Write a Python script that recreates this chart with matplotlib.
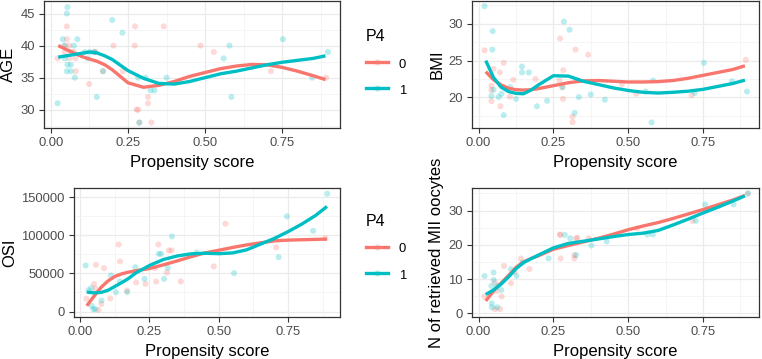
import matplotlib
matplotlib.use("Agg")
import matplotlib.pyplot as plt
from matplotlib.lines import Line2D
from matplotlib.colors import to_rgba

plt.rcParams["font.family"] = ["Liberation Sans", "DejaVu Sans"]

RED = "#F8766D"
CYAN = "#00BFC4"

ps_grid = [0.024, 0.05, 0.075, 0.1, 0.125, 0.15, 0.175, 0.2, 0.25, 0.3, 0.35,
           0.4, 0.45, 0.5, 0.55, 0.6, 0.65, 0.7, 0.75, 0.8, 0.85, 0.89]

# ---- AGE ----
age_x0 = [0.052, 0.273, 0.366, 0.203, 0.272, 0.485, 0.052, 0.047, 0.06, 0.022,
          0.045, 0.065, 0.075, 0.06, 0.08, 0.081, 0.124, 0.145, 0.14, 0.169,
          0.234, 0.315, 0.315, 0.278, 0.283, 0.326, 0.287, 0.528, 0.713, 0.892]
age_y0 = [43, 43, 43, 40, 40, 40, 41, 40, 40, 38,
          39, 39, 39, 38, 38, 36, 34, 39, 39, 36,
          36, 32, 31, 30, 30, 28, 28, 39, 36, 35]
age_x1 = [0.054, 0.052, 0.199, 0.232, 0.039, 0.086, 0.043, 0.075, 0.11, 0.127,
          0.142, 0.12, 0.054, 0.065, 0.052, 0.065, 0.078, 0.149, 0.022, 0.283,
          0.307, 0.375, 0.323, 0.336, 0.287, 0.169, 0.579, 0.56, 0.585, 0.752,
          0.847, 0.898, 0.045]
age_y1 = [46, 45, 44, 42, 41, 41, 40, 40, 39, 39,
          39, 38, 37, 37, 36, 36, 35, 32, 31, 35,
          35, 35, 33, 33, 28, 36, 40, 38, 32, 41,
          35, 39, 38]
age_fit0 = [40.0, 39.4, 38.85, 38.3, 37.9, 37.55, 37.0, 36.2, 34.2, 33.5, 33.8,
            34.4, 35.2, 35.8, 36.4, 36.8, 37.05, 37.0, 36.6, 36.0, 35.3, 34.7]
age_fit1 = [38.2, 38.4, 38.6, 38.8, 39.0, 38.85, 38.4, 37.8, 36.1, 34.9, 34.1,
            34.0, 34.4, 35.0, 35.6, 36.0, 36.5, 37.0, 37.4, 37.7, 38.0, 38.4]

# ---- BMI ----
bmi_x0 = [0.02, 0.084, 0.05, 0.071, 0.116, 0.043, 0.043, 0.043, 0.073, 0.105,
          0.272, 0.324, 0.366, 0.283, 0.27, 0.282, 0.314, 0.314, 0.19, 0.28,
          0.893, 0.712, 0.527, 0.479]
bmi_y0 = [26.4, 24.7, 23.9, 23.4, 22.4, 21.6, 21.0, 19.5, 18.8, 20.1,
          28.0, 26.5, 25.8, 23.7, 22.3, 19.8, 17.4, 16.65, 22.5, 21.4,
          25.1, 20.3, 20.5, 21.8]
bmi_x1 = [0.02, 0.047, 0.046, 0.285, 0.304, 0.145, 0.168, 0.145, 0.106, 0.125,
          0.043, 0.05, 0.076, 0.067, 0.084, 0.195, 0.229, 0.28, 0.335, 0.321,
          0.375, 0.422, 0.578, 0.583, 0.558, 0.753, 0.722, 0.847, 0.897]
bmi_y1 = [32.4, 29.0, 26.5, 30.3, 29.2, 24.2, 23.4, 23.4, 21.4, 19.8,
          20.2, 21.05, 20.5, 20.05, 17.6, 18.8, 19.55, 21.4, 20.05, 17.9,
          20.4, 19.7, 16.6, 22.3, 20.8, 24.7, 20.6, 22.2, 20.8]
bmi_fit0 = [23.5, 22.4, 21.7, 21.25, 21.05, 21.0, 21.05, 21.2, 21.6, 22.0, 22.25,
            22.3, 22.2, 22.1, 22.1, 22.15, 22.3, 22.6, 23.0, 23.4, 23.8, 24.3]
bmi_fit1 = [25.0, 22.7, 21.4, 20.8, 20.55, 20.5, 21.0, 21.7, 22.95, 22.9, 22.2,
            21.75, 21.3, 20.95, 20.7, 20.6, 20.7, 20.85, 21.1, 21.5, 21.9, 22.35]

# ---- OSI ----
osi_x0 = [0.524, 0.139, 0.282, 0.32, 0.33, 0.144, 0.057, 0.086, 0.482, 0.313,
          0.27, 0.202, 0.236, 0.274, 0.363, 0.169, 0.05, 0.055, 0.109, 0.023,
          0.077, 0.066, 0.707, 0.884]
osi_y0 = [115300, 88100, 88100, 80300, 80300, 65800, 61300, 57000, 59200, 51300,
          57000, 38200, 36300, 39500, 39500, 27600, 36000, 30000, 17100, 16800,
          10000, 2100, 84200, 96400]
osi_x1 = [0.02, 0.331, 0.284, 0.292, 0.199, 0.42, 0.303, 0.232, 0.143, 0.111,
          0.129, 0.17, 0.04, 0.03, 0.077, 0.042, 0.048, 0.055, 0.891, 0.746,
          0.84, 0.716, 0.555, 0.316]
osi_y1 = [60500, 98700, 75800, 75800, 58300, 77600, 42900, 42900, 39500, 47400,
          25400, 25400, 30600, 28000, 14500, 7400, 3000, 3000, 154700, 125000,
          106000, 71400, 50400, 57400]
osi_fit0 = [7500, 20000, 31500, 40000, 46000, 49500, 51800, 53500, 56500, 61300,
            66500, 72000, 77000, 80500, 84200, 87500, 90200, 92800, 93800, 94300,
            94800, 95200]
osi_fit1 = [25500, 24500, 25000, 27800, 32900, 38000, 43500, 50500, 60500, 68300,
            73000, 75800, 76600, 76000, 77000, 81000, 88500, 96000, 105000, 115000,
            126500, 138000]

# ---- N of retrieved MII oocytes ----
mii_x0 = [0.019, 0.055, 0.055, 0.072, 0.077, 0.085, 0.108, 0.141, 0.17, 0.273,
          0.274, 0.32, 0.32, 0.326, 0.368, 0.9, 0.715, 0.53, 0.272, 0.33,
          0.12, 0.06]
mii_y0 = [4.9, 9.0, 1.2, 1.2, 4.9, 13.8, 8.8, 16.0, 12.9, 22.9,
          16.0, 17.0, 16.0, 21.9, 21.9, 35.0, 27.0, 24.8, 23.0, 22.0,
          12.0, 6.5]
mii_x1 = [0.02, 0.05, 0.05, 0.043, 0.062, 0.076, 0.044, 0.044, 0.062, 0.108,
          0.127, 0.147, 0.288, 0.306, 0.326, 0.234, 0.377, 0.428, 0.757, 0.852,
          0.9, 0.726, 0.564, 0.582]
mii_y1 = [10.9, 11.9, 9.7, 8.0, 8.0, 6.8, 2.9, 1.75, 1.75, 12.9,
          10.9, 14.8, 22.9, 21.9, 17.0, 16.0, 19.8, 21.0, 31.8, 31.8,
          35.0, 27.0, 23.0, 23.0]
mii_fit0 = [3.6, 6.5, 8.8, 11.0, 13.4, 15.0, 16.0, 16.8, 18.7, 19.8, 20.85,
            21.9, 23.1, 24.4, 25.5, 26.5, 27.7, 29.0, 30.3, 31.7, 33.1, 34.4]
mii_fit1 = [5.5, 6.8, 8.5, 10.6, 13.0, 14.8, 15.9, 17.0, 19.1, 20.4, 21.05,
            21.7, 22.4, 23.0, 23.4, 24.2, 25.8, 27.5, 29.3, 31.0, 32.8, 34.3]

W, H = 762, 359
fig = plt.figure(figsize=(W / 100, H / 100), dpi=100)


def panel(left, top, right, bottom):
    # pixel box -> figure fraction
    return fig.add_axes([left / W, 1 - bottom / H, (right - left) / W, (bottom - top) / H])


def draw(ax, x0, y0, x1, y1, fit0, fit1, ylim, yticks, ylabel):
    ax.scatter(x0, y0, s=19, color=RED, alpha=0.27, edgecolors="none", zorder=2)
    ax.scatter(x1, y1, s=19, color=CYAN, alpha=0.27, edgecolors="none", zorder=2)
    ax.plot(ps_grid, fit0, color=RED, lw=2.4, solid_capstyle="butt", zorder=3)
    ax.plot(ps_grid, fit1, color=CYAN, lw=2.4, solid_capstyle="butt", zorder=4)

    ax.set_xlim(-0.022, 0.937)
    ax.set_xticks([0, 0.25, 0.5, 0.75])
    ax.set_xticklabels(["0.00", "0.25", "0.50", "0.75"])
    ax.set_xticks([0.125, 0.375, 0.625, 0.875], minor=True)
    ax.set_yticks(yticks)
    step = yticks[1] - yticks[0]
    ax.set_yticks([t - step / 2 for t in yticks] + [yticks[-1] + step / 2], minor=True)
    ax.set_ylim(*ylim)

    ax.grid(which="major", color="#EBEBEB", lw=0.9)
    ax.grid(which="minor", color="#F2F2F2", lw=0.5)
    ax.set_axisbelow(True)
    ax.tick_params(which="major", length=3.6, width=0.8, color="#333333",
                   labelcolor="#4D4D4D", labelsize=9.4, pad=3)
    ax.tick_params(which="minor", length=0)
    for sp in ax.spines.values():
        sp.set_color("#333333")
        sp.set_linewidth(0.9)
    ax.set_xlabel("Propensity score", fontsize=12, labelpad=4)
    ax.set_ylabel(ylabel, fontsize=12, labelpad=3)


ax1 = panel(44, 1, 340, 128)
draw(ax1, age_x0, age_y0, age_x1, age_y1, age_fit0, age_fit1,
     (27.15, 46.95), [30, 35, 40, 45], "AGE")

ax2 = panel(472, 1, 759, 128)
draw(ax2, bmi_x0, bmi_y0, bmi_x1, bmi_y1, bmi_fit0, bmi_fit1,
     (15.85, 33.1), [20, 25, 30], "BMI")

ax3 = panel(74, 188, 340, 317)
draw(ax3, osi_x0, osi_y0, osi_x1, osi_y1, osi_fit0, osi_fit1,
     (-7200, 162300), [0, 50000, 100000, 150000], "OSI")

ax4 = panel(472, 188, 759, 317)
draw(ax4, mii_x0, mii_y0, mii_x1, mii_y1, mii_fit0, mii_fit1,
     (-1.1, 36.6), [0, 10, 20, 30], "N of retrieved MII oocytes")

handles = [
    Line2D([], [], color=RED, lw=2.4, marker="o", ms=4.4,
           markerfacecolor=to_rgba(RED, 0.3), markeredgecolor="none"),
    Line2D([], [], color=CYAN, lw=2.4, marker="o", ms=4.4,
           markerfacecolor=to_rgba(CYAN, 0.3), markeredgecolor="none"),
]
for top_px in (29, 214):
    leg = fig.legend(handles, ["0", "1"], title="P4", loc="upper left",
                     bbox_to_anchor=(366 / W, 1 - top_px / H), frameon=False,
                     borderpad=0, borderaxespad=0, handlelength=1.7,
                     handletextpad=0.8, handleheight=1.2, labelspacing=0.95,
                     fontsize=9.4, title_fontsize=11.5, alignment="left")

fig.savefig("out.png", dpi=100)
